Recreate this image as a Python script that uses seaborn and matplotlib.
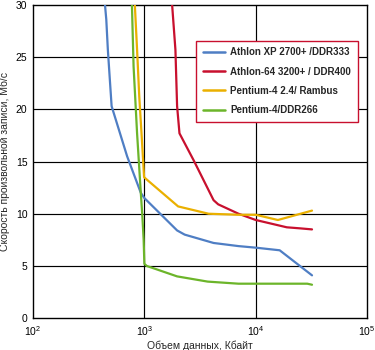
import matplotlib
matplotlib.use("Agg")
import matplotlib.pyplot as plt
import seaborn as sns
import pandas as pd
from matplotlib.ticker import LogLocator, NullLocator, LogFormatterSciNotation

series_names = ["Athlon XP 2700+ /DDR333", "Athlon-64 3200+ / DDR400",
                "Pentium-4 2.4/ Rambus", "Pentium-4/DDR266"]

athlon_xp_x = [443, 455, 470, 490, 508, 700, 929, 1000, 1967, 2300, 4180, 7000, 10000, 16400, 32000]
athlon_xp_y = [30, 28.6, 25.7, 22.8, 20.3, 15.5, 12.0, 11.5, 8.4, 8.0, 7.2, 6.9, 6.75, 6.5, 4.1]

athlon64_x = [1775, 1900, 1967, 2066, 2775, 4180, 4600, 7000, 10000, 19000, 25000, 32000]
athlon64_y = [30, 25.7, 20.3, 17.7, 15.1, 11.3, 10.9, 10.0, 9.4, 8.7, 8.6, 8.5]

p4_rambus_x = [821, 860, 900, 950, 994, 1070, 2010, 3770, 7000, 10000, 15800, 32000]
p4_rambus_y = [30, 25.7, 21.2, 17.1, 13.5, 13.2, 10.7, 10.0, 9.9, 9.9, 9.4, 10.3]

p4_ddr_x = [773, 800, 860, 929, 960, 985, 1000, 1050, 1967, 3700, 7000, 29000, 32000]
p4_ddr_y = [30, 24.1, 17.7, 12.0, 9.7, 7.5, 5.2, 5.0, 4.0, 3.5, 3.3, 3.3, 3.2]

colors = ["#4f7ec4", "#c8102e", "#eab000", "#6cb52a"]

xs = [athlon_xp_x, athlon64_x, p4_rambus_x, p4_ddr_x]
ys = [athlon_xp_y, athlon64_y, p4_rambus_y, p4_ddr_y]
rows = []
for name, xv, yv in zip(series_names, xs, ys):
    for i, (a, b) in enumerate(zip(xv, yv)):
        rows.append({"series": name, "x": a, "y": b, "order": i})
df = pd.DataFrame(rows)

sns.set_style("white")
plt.rcParams["font.family"] = ["Liberation Sans", "DejaVu Sans"]

fig = plt.figure(figsize=(3.75, 3.5), dpi=100)
ax = fig.add_axes([0.088, 0.091, 0.891, 0.895])

sns.lineplot(data=df, x="x", y="y", hue="series", hue_order=series_names,
             palette=colors, sort=False, estimator=None, linewidth=1.6, ax=ax,
             zorder=3)

ax.set_xscale("log")
ax.set_xlim(100, 100000)
ax.set_ylim(0, 30)
ax.xaxis.set_major_locator(LogLocator(base=10, numticks=10))
ax.xaxis.set_major_formatter(LogFormatterSciNotation())
ax.xaxis.set_minor_locator(NullLocator())
ax.set_yticks([0, 5, 10, 15, 20, 25, 30])

for yv in [5, 10, 15, 20, 25]:
    ax.axhline(yv, color="black", linewidth=0.85, zorder=1)
for xv in [1000, 10000]:
    ax.axvline(xv, color="black", linewidth=0.85, zorder=1)

for s in ax.spines.values():
    s.set_color("black")
    s.set_linewidth(1.0)

ax.tick_params(axis="both", length=0, labelsize=7.5, colors="black", pad=4)
ax.set_xlabel("Объем данных, Кбайт", fontsize=7.5, labelpad=2)
ax.set_ylabel("Скорость произвольной записи, Мб/с", fontsize=7.5, labelpad=4)

leg = ax.legend(loc="upper left", bbox_to_anchor=(0.489, 0.886), frameon=True,
                fancybox=False, fontsize=7, handlelength=2.2, borderpad=0.7,
                labelspacing=0.95, handletextpad=0.6, borderaxespad=0)
leg.get_frame().set_edgecolor("#c8102e")
leg.get_frame().set_linewidth(1.0)
leg.get_frame().set_facecolor("white")
leg.get_frame().set_alpha(1)
for t in leg.get_texts():
    t.set_fontweight("bold")
for h in leg.get_lines():
    h.set_linewidth(1.8)
leg.set_zorder(5)

fig.savefig("out.png", dpi=100)
